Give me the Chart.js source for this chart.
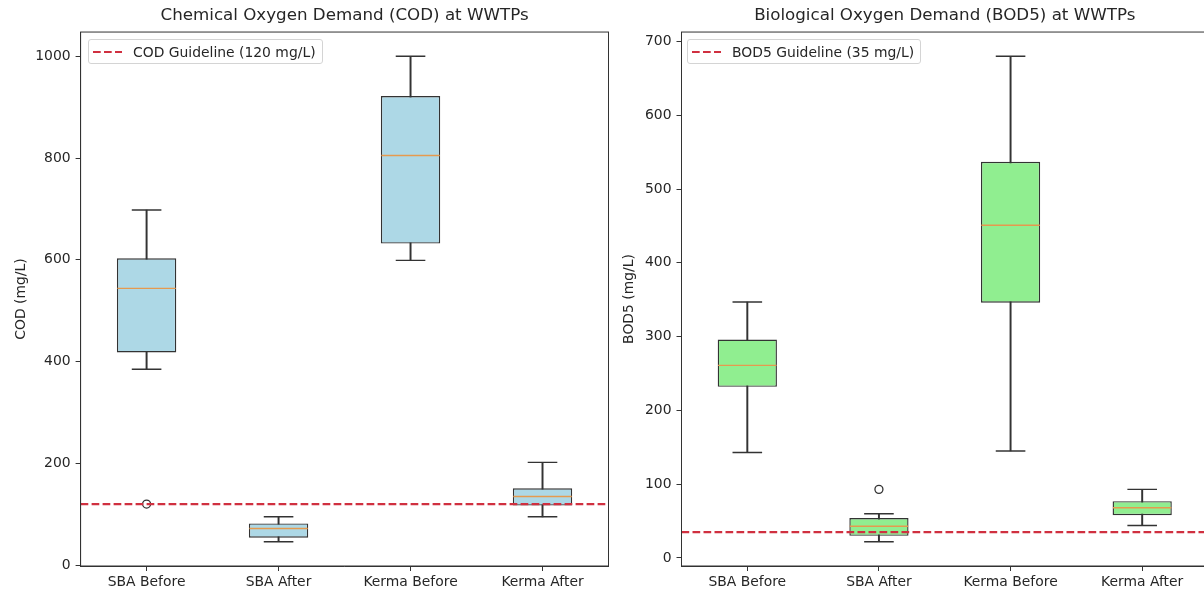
<!DOCTYPE html>
<html>
<head>
<meta charset="utf-8">
<script src="https://cdn.jsdelivr.net/npm/chart.js@4.4.1/dist/chart.umd.min.js"></script>
<style>
  html, body { margin: 0; padding: 0; background: #fff; }
  body { width: 1204px; height: 592px; overflow: hidden; position: relative; font-family: 'DejaVu Sans', sans-serif; }
  canvas { position: absolute; top: 0; }
  #cod { left: 0; }
  #bod { left: 612px; }
  .legend {
    position: absolute; top: 39px; height: 25px; box-sizing: border-box;
    border: 1px solid #d4d4d4; border-radius: 3px; background: rgba(255, 255, 255, 0.8);
    display: flex; align-items: center; padding: 0 6px 0 4px;
    font-size: 13.9px; color: #262626; white-space: nowrap;
  }
  .legend svg { margin-right: 11px; }
</style>
</head>
<body>
<canvas id="cod" width="612" height="592"></canvas>
<canvas id="bod" width="600" height="592"></canvas>
<div class="legend" id="cod-legend" style="left: 88px;"></div>
<div class="legend" id="bod-legend" style="left: 687px;"></div>

<script>
// categories shared by both panels
const categories = ['SBA Before', 'SBA After', 'Kerma Before', 'Kerma After'];

// COD (mg/L) box statistics
const codWhiskerLow = [385, 46, 599, 95];
const codQ1 = [418, 54, 632, 117];
const codMedian = [544, 72, 805, 135];
const codQ3 = [603, 82, 922, 151];
const codWhiskerHigh = [698, 95, 1000, 202];
const codOutliers = [120, null, null, null];
const codGuideline = 120;
const codTicks = [0, 200, 400, 600, 800, 1000];

// BOD5 (mg/L) box statistics
const bodWhiskerLow = [143, 22, 145, 44];
const bodQ1 = [232, 30, 346, 58];
const bodMedian = [261, 43, 451, 68];
const bodQ3 = [296, 54, 537, 77];
const bodWhiskerHigh = [347, 60, 680, 93];
const bodOutliers = [null, 93, null, null];
const bodGuideline = 35;
const bodTicks = [0, 100, 200, 300, 400, 500, 600, 700];

const textColor = '#262626';
const edgeColor = '#333333';
const medianColor = '#e59a4f';
const guideColor = '#d03040';
const font = { family: "'DejaVu Sans', sans-serif", size: 13.9 };

// draws the full frame around the plot area
const framePlugin = {
  id: 'frame',
  afterDraw(chart) {
    const { ctx, chartArea: a } = chart;
    ctx.save();
    ctx.strokeStyle = edgeColor;
    ctx.lineWidth = 1;
    ctx.strokeRect(a.left, a.top, a.right - a.left, a.bottom - a.top);
    ctx.restore();
  },
};

function makeBoxChart(canvasId, o) {
  const pts = (vals) => vals.map((v, i) => ({ x: i + 1, y: v }));
  const ranges = (lo, hi) => lo.map((v, i) => ({ x: i + 1, y: [v, hi[i]] }));

  // matplotlib-like autoscale: data span plus 5% margins
  const all = [...o.whiskerLow, ...o.whiskerHigh, ...o.outliers.filter((v) => v !== null)];
  const lo = Math.min(...all);
  const hi = Math.max(...all);
  const margin = (hi - lo) * 0.05;

  return new Chart(document.getElementById(canvasId), {
    data: {
      datasets: [
        {
          type: 'line',
          data: [{ x: 0.5, y: o.guideline }, { x: categories.length + 0.5, y: o.guideline }],
          borderColor: guideColor,
          borderWidth: 2.1,
          borderDash: [7.7, 3.3],
          pointRadius: 0,
          order: 0,
        },
        {
          type: 'line',
          data: pts(o.outliers),
          showLine: false,
          pointStyle: 'circle',
          pointRadius: 4,
          borderColor: edgeColor,
          backgroundColor: 'rgba(0,0,0,0)',
          borderWidth: 1.3,
          order: 1,
        },
        {
          type: 'line',
          data: pts(o.median),
          showLine: false,
          pointStyle: 'line',
          pointRadius: 29.2,
          borderColor: medianColor,
          borderWidth: 1.4,
          order: 2,
        },
        {
          type: 'line',
          data: pts(o.whiskerLow),
          showLine: false,
          pointStyle: 'line',
          pointRadius: 14.8,
          borderColor: edgeColor,
          borderWidth: 1.4,
          order: 3,
        },
        {
          type: 'line',
          data: pts(o.whiskerHigh),
          showLine: false,
          pointStyle: 'line',
          pointRadius: 14.8,
          borderColor: edgeColor,
          borderWidth: 1.4,
          order: 3,
        },
        {
          type: 'bar',
          data: ranges(o.q1, o.q3),
          backgroundColor: o.fill,
          borderColor: edgeColor,
          borderWidth: 1.4,
          borderSkipped: false,
          grouped: false,
          barPercentage: 0.45,
          categoryPercentage: 1,
          order: 4,
        },
        {
          type: 'bar',
          data: ranges(o.whiskerLow, o.whiskerHigh),
          backgroundColor: edgeColor,
          borderWidth: 0,
          grouped: false,
          barThickness: 1.3,
          maxBarThickness: 1.3,
          order: 5,
        },
      ],
    },
    options: {
      responsive: false,
      animation: false,
      events: [],
      layout: { autoPadding: false, padding: { left: 0, right: o.padRight, top: 0, bottom: 0 } },
      plugins: {
        legend: { display: false },
        tooltip: { enabled: false },
        title: {
          display: true,
          text: o.title,
          fullSize: false,
          color: textColor,
          font: { family: font.family, size: 16.7, weight: 'normal' },
          padding: { top: 6, bottom: 6 },
        },
      },
      scales: {
        x: {
          type: 'linear',
          offset: false,
          min: 0.5,
          max: categories.length + 0.5,
          afterBuildTicks: (s) => { s.ticks = categories.map((_, i) => ({ value: i + 1 })); },
          afterFit: (s) => { s.height = 26; },
          ticks: {
            callback: (v) => categories[v - 1],
            color: textColor,
            font,
            padding: 3,
            autoSkip: false,
            maxRotation: 0,
          },
          grid: { offset: false, drawOnChartArea: false, tickLength: 5, color: edgeColor },
          border: { color: edgeColor },
        },
        y: {
          type: 'linear',
          min: lo - margin,
          max: hi + margin,
          afterBuildTicks: (s) => { s.ticks = o.ticks.map((v) => ({ value: v })); },
          afterFit: (s) => { s.width = o.axisWidth; },
          ticks: { callback: (v) => String(v), color: textColor, font, padding: 5 },
          grid: { drawOnChartArea: false, tickLength: 5, color: edgeColor },
          border: { color: edgeColor },
          title: {
            display: true,
            text: o.yLabel,
            color: textColor,
            font,
            padding: { top: o.labelPad, bottom: 0 },
          },
        },
      },
    },
    plugins: [framePlugin],
  });
}

function makeLegend(id, text) {
  const el = document.getElementById(id);
  el.innerHTML =
    '<svg width="29" height="4"><line x1="0" y1="2" x2="29" y2="2" stroke="' + guideColor +
    '" stroke-width="2.1" stroke-dasharray="7.7 3.3"/></svg><span>' + text + '</span>';
}

makeBoxChart('cod', {
  title: 'Chemical Oxygen Demand (COD) at WWTPs',
  yLabel: 'COD (mg/L)',
  whiskerLow: codWhiskerLow,
  q1: codQ1,
  median: codMedian,
  q3: codQ3,
  whiskerHigh: codWhiskerHigh,
  outliers: codOutliers,
  guideline: codGuideline,
  ticks: codTicks,
  fill: '#add8e6',
  axisWidth: 80.6,
  labelPad: 12.7,
  padRight: 3.5,
});

makeBoxChart('bod', {
  title: 'Biological Oxygen Demand (BOD5) at WWTPs',
  yLabel: 'BOD5 (mg/L)',
  whiskerLow: bodWhiskerLow,
  q1: bodQ1,
  median: bodMedian,
  q3: bodQ3,
  whiskerHigh: bodWhiskerHigh,
  outliers: bodOutliers,
  guideline: bodGuideline,
  ticks: bodTicks,
  fill: '#90ee90',
  axisWidth: 69.5,
  labelPad: 8.7,
  padRight: 4,
});

makeLegend('cod-legend', 'COD Guideline (' + codGuideline + ' mg/L)');
makeLegend('bod-legend', 'BOD5 Guideline (' + bodGuideline + ' mg/L)');
</script>
</body>
</html>
